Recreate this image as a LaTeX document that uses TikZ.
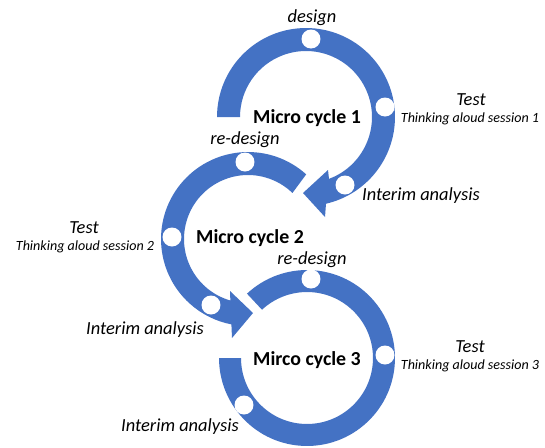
\documentclass[tikz,border=0pt]{standalone}
\usepackage{fontspec}
\setmainfont{Carlito}
\definecolor{cycblue}{HTML}{4472C4}
\begin{document}
\begin{tikzpicture}[x=0.02cm,y=0.02cm,
  cyc/.style={fill=cycblue},
  dot/.style={circle,fill=white,inner sep=0pt,minimum size=0.38cm},
  lbl/.style={font=\fontsize{10.5}{12}\selectfont\itshape,inner sep=0pt},
  sub/.style={font=\fontsize{8}{9.5}\selectfont\itshape,inner sep=0pt},
  ttl/.style={font=\fontsize{11.3}{13}\selectfont\bfseries,inner sep=0pt}]
\useasboundingbox (0,0) rectangle (545,-447);
\coordinate (c1) at (306,-117);
\coordinate (c2) at (248,-239);
\coordinate (c3) at (307,-358);
% cycle 1
\coordinate (b1o) at (325,-217);
\coordinate (t1) at (303,-193);
\coordinate (b1i) at (328,-170);
\fill[cyc] ([shift={(180:1.78cm)}]c1) arc[start angle=180,end angle=-77,radius=1.78cm]
  -- (b1o) -- (t1) -- (b1i) -- ([shift={(-69.6:1.32cm)}]c1)
  arc[start angle=-69.6,end angle=180,radius=1.32cm] -- cycle;
% cycle 2
\coordinate (b2o) at (232,-338);
\coordinate (t2) at (253,-313);
\coordinate (b2i) at (230,-291);
\fill[cyc] ([shift={(48:1.74cm)}]c2) arc[start angle=48,end angle=259,radius=1.74cm]
  -- (b2o) -- (t2) -- (b2i) -- ([shift={(254:1.28cm)}]c2)
  arc[start angle=254,end angle=46,radius=1.28cm] -- cycle;
% cycle 3
\fill[cyc] ([shift={(133:1.76cm)}]c3) arc[start angle=133,end angle=-180,radius=1.76cm]
  -- ([shift={(180:1.32cm)}]c3) arc[start angle=-180,end angle=133,radius=1.32cm] -- cycle;
% dots
\node[dot] (d11) at (311,-39) {};
\node[dot] (d12) at (385,-107) {};
\node[dot] (d13) at (345,-185) {};
\node[dot] (d21) at (245,-162) {};
\node[dot] (d22) at (172,-237) {};
\node[dot] (d23) at (211,-305) {};
\node[dot] (d31) at (311,-279) {};
\node[dot] (d32) at (385,-355) {};
\node[dot] (d33) at (244,-405) {};
% titles
\node[ttl] (m1) at (307,-118) {Micro cycle 1};
\node[ttl] (m2) at (250,-238) {Micro cycle 2};
\node[ttl] (m3) at (307,-360) {Mirco cycle 3};
% labels
\node[lbl] (l11) at (312,-18) {design};
\node[lbl] (l12) at (471,-100) {Test};
\node[sub] (s12) at (470,-119) {Thinking aloud session 1};
\node[lbl] (l13) at (421,-196) {Interim analysis};
\node[lbl] (l21) at (245,-140) {re-design};
\node[lbl] (l22) at (84,-228) {Test};
\node[sub] (s22) at (85,-247) {Thinking aloud session 2};
\node[lbl] (l23) at (145,-330) {Interim analysis};
\node[lbl] (l31) at (312,-260) {re-design};
\node[lbl] (l32) at (470,-347) {Test};
\node[sub] (s32) at (470,-366) {Thinking aloud session 3};
\node[lbl] (l33) at (180,-427) {Interim analysis};
\end{tikzpicture}
\end{document}
